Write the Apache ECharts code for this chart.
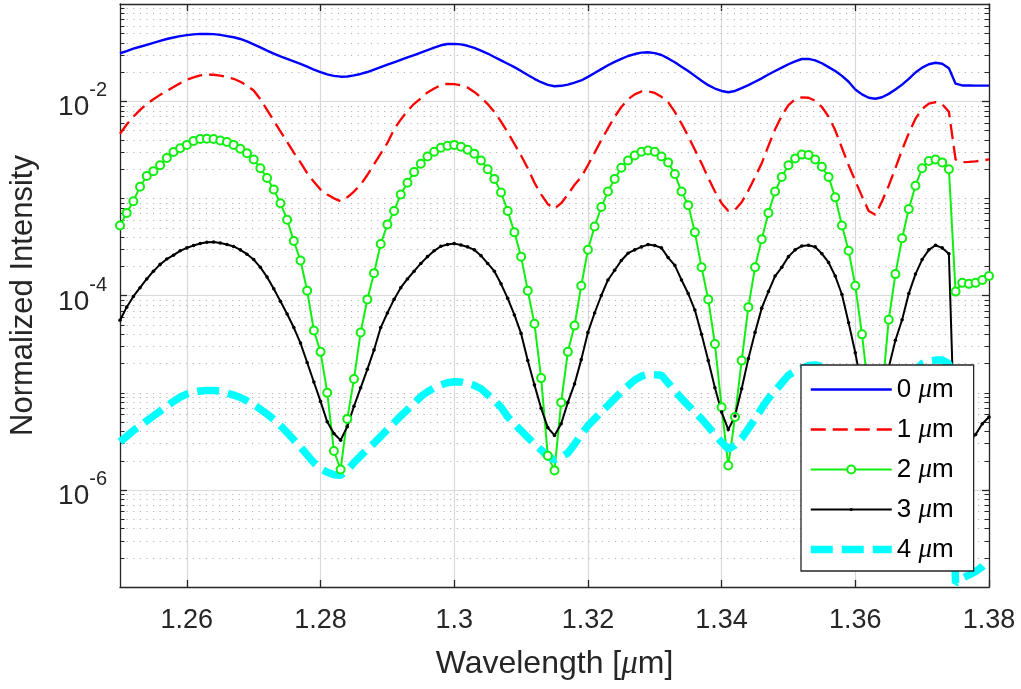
<!DOCTYPE html>
<html>
<head>
<meta charset="utf-8">
<title>Normalized Intensity vs Wavelength</title>
<script src="https://cdn.jsdelivr.net/npm/echarts@6/dist/echarts.min.js"></script>
<style>
  html, body { margin: 0; padding: 0; background: #ffffff; }
  #chart { width: 1021px; height: 689px; }
</style>
</head>
<body>
<div id="chart"></div>
<script>
// Spectra sampled every 1 nm from 1.250 to 1.380 µm.
// Intensities are stored as log10 of the normalized intensity.
const wavelengthStart = 1.25;
const wavelengthStep = 0.001;

const log10Intensity0um = [
  -1.507, -1.485, -1.46, -1.44, -1.42, -1.40, -1.38, -1.36, -1.345, -1.33,
  -1.32, -1.313, -1.308, -1.307, -1.31, -1.318, -1.33, -1.342, -1.36, -1.385,
  -1.415, -1.447, -1.479, -1.51, -1.54, -1.565, -1.59, -1.616, -1.645, -1.675,
  -1.70, -1.725, -1.74, -1.748, -1.746, -1.735, -1.72, -1.70, -1.675, -1.65,
  -1.625, -1.60, -1.575, -1.55, -1.525, -1.50, -1.475, -1.45, -1.425, -1.412,
  -1.41, -1.415, -1.43, -1.452, -1.479, -1.51, -1.545, -1.58, -1.615, -1.65,
  -1.69, -1.73, -1.77, -1.805, -1.832, -1.846, -1.842, -1.83, -1.81, -1.787,
  -1.75, -1.71, -1.67, -1.63, -1.595, -1.565, -1.535, -1.515, -1.50, -1.497,
  -1.505, -1.525, -1.56, -1.60, -1.645, -1.69, -1.74, -1.79, -1.835, -1.87,
  -1.895, -1.908, -1.895, -1.865, -1.835, -1.80, -1.765, -1.725, -1.69, -1.655,
  -1.62, -1.59, -1.566, -1.565, -1.58, -1.61, -1.65, -1.69, -1.74, -1.80,
  -1.88, -1.93, -1.965, -1.975, -1.96, -1.925, -1.88, -1.83, -1.77, -1.705,
  -1.655, -1.62, -1.605, -1.615, -1.66, -1.82, -1.838, -1.838, -1.84, -1.84, -1.84
];

const log10Intensity1um = [
  -2.335, -2.24, -2.16, -2.09, -2.03, -1.98, -1.935, -1.895, -1.855, -1.815,
  -1.78, -1.755, -1.735, -1.726, -1.728, -1.738, -1.752, -1.77, -1.80, -1.84,
  -1.89, -1.98, -2.09, -2.20, -2.31, -2.42, -2.53, -2.63, -2.74, -2.83,
  -2.91, -2.96, -3.0, -3.03, -2.99, -2.93, -2.86, -2.76, -2.65, -2.54,
  -2.43, -2.29, -2.19, -2.10, -2.027, -1.97, -1.91, -1.87, -1.835, -1.821,
  -1.825, -1.837, -1.86, -1.905, -1.96, -2.03, -2.11, -2.21, -2.32, -2.44,
  -2.56, -2.69, -2.84, -2.96, -3.06, -3.105, -3.05, -2.96, -2.86, -2.78,
  -2.66, -2.53, -2.40, -2.28, -2.16, -2.06, -1.98, -1.93, -1.90, -1.898,
  -1.915, -1.955, -2.01, -2.11, -2.23, -2.36, -2.50, -2.64, -2.79, -2.93,
  -3.05, -3.13, -3.12, -3.04, -2.92, -2.78, -2.64, -2.46, -2.29, -2.15,
  -2.04, -1.98, -1.96, -1.965, -1.995, -2.06, -2.16, -2.30, -2.48, -2.66,
  -2.82, -2.98, -3.13, -3.17, -3.03, -2.87, -2.69, -2.50, -2.33, -2.18,
  -2.08, -2.025, -2.01, -2.03, -2.11, -2.60, -2.627, -2.625, -2.62, -2.61, -2.60
];

const log10Intensity2um = [
  -3.28, -3.15, -3.03, -2.88, -2.77, -2.72, -2.66, -2.585, -2.524, -2.485,
  -2.45, -2.41, -2.39, -2.386, -2.39, -2.405, -2.42, -2.45, -2.49, -2.535,
  -2.60, -2.69, -2.79, -2.91, -3.05, -3.22, -3.44, -3.64, -3.95, -4.36,
  -4.58, -5.0, -5.6, -5.79, -5.27, -4.86, -4.38, -4.04, -3.77, -3.47,
  -3.27, -3.13, -2.96, -2.84, -2.73, -2.645, -2.57, -2.52, -2.48, -2.458,
  -2.45, -2.468, -2.50, -2.54, -2.61, -2.70, -2.80, -2.94, -3.13, -3.35,
  -3.60, -3.95, -4.29, -4.85, -5.65, -5.80, -5.10, -4.58, -4.31, -3.90,
  -3.53, -3.29, -3.09, -2.93, -2.80, -2.685, -2.61, -2.558, -2.52, -2.508,
  -2.52, -2.57, -2.63, -2.75, -2.93, -3.07, -3.35, -3.71, -4.04, -4.50,
  -5.15, -5.75, -5.25, -4.67, -4.12, -3.71, -3.42, -3.15, -2.93, -2.78,
  -2.66, -2.59, -2.55, -2.553, -2.60, -2.675, -2.78, -2.99, -3.28, -3.54,
  -3.90, -4.40, -5.0, -5.8, -5.0, -4.25, -3.78, -3.41, -3.11, -2.87,
  -2.69, -2.615, -2.60, -2.63, -2.70, -3.96, -3.87, -3.88, -3.87, -3.84, -3.80
];

const log10Intensity3um = [
  -4.254, -4.12, -4.01, -3.92, -3.83, -3.75, -3.68, -3.625, -3.585, -3.54,
  -3.51, -3.485, -3.465, -3.452, -3.449, -3.46, -3.475, -3.495, -3.53, -3.575,
  -3.63, -3.71, -3.81, -3.93, -4.06, -4.19, -4.33, -4.49, -4.69, -4.89,
  -5.09, -5.30, -5.42, -5.49, -5.35, -5.14, -4.95, -4.76, -4.56, -4.33,
  -4.18, -4.04, -3.92, -3.83, -3.75, -3.67, -3.60, -3.54, -3.493, -3.475,
  -3.466, -3.48, -3.50, -3.53, -3.59, -3.67, -3.75, -3.88, -4.03, -4.20,
  -4.39, -4.67, -4.92, -5.16, -5.36, -5.44, -5.32, -5.10, -4.91, -4.66,
  -4.38, -4.18, -4.00, -3.84, -3.74, -3.64, -3.565, -3.53, -3.50, -3.476,
  -3.485, -3.51, -3.61, -3.69, -3.84, -3.98, -4.15, -4.40, -4.67, -4.95,
  -5.20, -5.38, -5.24, -4.96, -4.65, -4.38, -4.13, -3.96, -3.80, -3.71,
  -3.60, -3.53, -3.49, -3.483, -3.50, -3.57, -3.66, -3.80, -3.99, -4.28,
  -4.59, -4.95, -5.30, -5.45, -5.20, -4.74, -4.46, -4.25, -3.98, -3.78,
  -3.63, -3.53, -3.483, -3.51, -3.57, -5.80, -5.65, -5.50, -5.43, -5.32, -5.25
];

const log10Intensity4um = [
  -5.505, -5.45, -5.39, -5.34, -5.29, -5.24, -5.19, -5.14, -5.09, -5.045,
  -5.015, -4.995, -4.983, -4.978, -4.978, -4.985, -5.005, -5.025, -5.05, -5.085,
  -5.125, -5.17, -5.22, -5.275, -5.34, -5.41, -5.485, -5.56, -5.64, -5.72,
  -5.78, -5.82, -5.845, -5.85, -5.80, -5.72, -5.65, -5.585, -5.52, -5.45,
  -5.38, -5.31, -5.24, -5.175, -5.11, -5.04, -4.99, -4.95, -4.92, -4.898,
  -4.888, -4.89, -4.905, -4.925, -4.96, -5.02, -5.08, -5.15, -5.25, -5.32,
  -5.39, -5.46, -5.53, -5.59, -5.66, -5.69, -5.66, -5.62, -5.53, -5.43,
  -5.34, -5.27, -5.20, -5.13, -5.06, -4.99, -4.93, -4.87, -4.83, -4.81,
  -4.815, -4.82, -4.90, -4.98, -5.06, -5.13, -5.20, -5.27, -5.35, -5.43,
  -5.51, -5.58, -5.54, -5.47, -5.37, -5.27, -5.16, -5.06, -4.98, -4.90,
  -4.82, -4.78, -4.75, -4.72, -4.715, -4.73, -4.78, -4.86, -4.96, -5.07,
  -5.20, -5.33, -5.44, -5.50, -5.44, -5.30, -5.15, -5.00, -4.87, -4.77,
  -4.70, -4.675, -4.665, -4.665, -4.70, -6.96, -6.91, -6.875, -6.84, -6.79, -6.72
];

const seriesNames = ['0 μm', '1 μm', '2 μm', '3 μm', '4 μm'];
const xTickValues = [1.26, 1.28, 1.30, 1.32, 1.34, 1.36, 1.38];
const yTickValues = [1e-6, 1e-4, 1e-2];
const xMin = 1.25, xMax = 1.38;
const yMin = 1e-7, yMax = 1e-1;

const wavelengths = log10Intensity0um.map((_, i) => +(wavelengthStart + i * wavelengthStep).toFixed(3));
function toPoints(logs) {
  return logs.map((e, i) => [wavelengths[i], Math.pow(10, e)]);
}

// Minor log grid: 2..9 x 10^k plus the odd decades between labelled ticks.
const minorGridValues = [];
for (let e = -7; e <= -2; e++) {
  for (let m = 1; m <= 9; m++) {
    if (m === 1 && (e === -7 || e % 2 === 0)) continue;
    minorGridValues.push([xMin, m * Math.pow(10, e)]);
  }
}

const FONT = "'Liberation Sans', Arial, Helvetica, sans-serif";
const SERIF = "'Liberation Serif', 'DejaVu Serif', serif";
const AXIS_COLOR = '#262626';

// Small filled dot centred in a 10x10 box, so the marker renders at ~40% of symbolSize.
const smallDot = 'path://M0,0M10,10M3,5A2,2,0,1,0,7,5A2,2,0,1,0,3,5Z';

const chart = echarts.init(document.getElementById('chart'), null, { renderer: 'canvas' });

const axisLine = { show: true, onZero: false, lineStyle: { color: AXIS_COLOR, width: 1.3 } };

chart.setOption({
  animation: false,
  backgroundColor: '#ffffff',
  textStyle: { fontFamily: FONT },
  grid: { left: 120, top: 4, width: 869, height: 583, outerBoundsMode: 'none', containLabel: false },
  xAxis: [
    {
      type: 'value', min: xMin, max: xMax, position: 'bottom',
      axisLine: axisLine,
      axisTick: { show: true, inside: true, length: 7, customValues: xTickValues, lineStyle: { color: AXIS_COLOR, width: 1.3 } },
      axisLabel: { customValues: xTickValues, margin: 20, fontSize: 27, color: AXIS_COLOR, fontFamily: FONT },
      splitLine: { show: true, lineStyle: { color: '#d9d9d9', width: 1.2 } },
      name: 'Wavelength [{mu|μ}m]',
      nameLocation: 'middle', nameGap: 61, nameMoveOverlap: false,
      nameTextStyle: {
        fontSize: 32, color: AXIS_COLOR, fontFamily: FONT,
        rich: { mu: { fontSize: 33, fontStyle: 'italic', fontFamily: SERIF, color: AXIS_COLOR } }
      }
    },
    {
      type: 'value', min: xMin, max: xMax, position: 'top',
      axisLine: axisLine,
      axisTick: { show: true, inside: true, length: 7, customValues: xTickValues, lineStyle: { color: AXIS_COLOR, width: 1.3 } },
      axisLabel: { show: false },
      splitLine: { show: false }
    }
  ],
  yAxis: [
    {
      type: 'log', logBase: 10, min: yMin, max: yMax, position: 'left',
      axisLine: axisLine,
      axisTick: { show: true, inside: true, length: 7, customValues: yTickValues, lineStyle: { color: AXIS_COLOR, width: 1.3 } },
      axisLabel: {
        customValues: yTickValues, margin: 13, color: AXIS_COLOR, fontFamily: FONT,
        formatter: function (v) {
          const e = Math.round(Math.log10(v));
          return '{b|10}{s|' + e + '}{h|\u200b}';
        },
        rich: {
          b: { fontSize: 28, lineHeight: 28, verticalAlign: 'bottom', color: AXIS_COLOR, fontFamily: FONT },
          s: { fontSize: 20, lineHeight: 37, verticalAlign: 'top', color: AXIS_COLOR, fontFamily: FONT },
          h: { fontSize: 1, lineHeight: 41, verticalAlign: 'middle' }
        }
      },
      splitLine: { show: true, lineStyle: { color: '#d9d9d9', width: 1.2 } },
      minorTick: { show: false },
      name: 'Normalized Intensity',
      nameLocation: 'middle', nameGap: 81, nameMoveOverlap: false,
      nameTextStyle: { fontSize: 31, color: AXIS_COLOR, fontFamily: FONT }
    },
    {
      type: 'log', logBase: 10, min: yMin, max: yMax, position: 'right',
      axisLine: axisLine,
      axisTick: { show: true, inside: true, length: 7, customValues: yTickValues, lineStyle: { color: AXIS_COLOR, width: 1.3 } },
      axisLabel: { show: false },
      splitLine: { show: false }
    }
  ],
  legend: {
    orient: 'vertical', left: 801, top: 365,
    padding: [11, 20, 8, 6], itemGap: 13, itemWidth: 81, itemHeight: 10,
    backgroundColor: '#ffffff', borderColor: AXIS_COLOR, borderWidth: 1.3, borderRadius: 0,
    selectedMode: false,
    textStyle: {
      fontSize: 26, lineHeight: 24, color: '#000000', fontFamily: FONT,
      rich: { mu: { fontSize: 27, lineHeight: 24, fontStyle: 'italic', fontFamily: SERIF, color: '#000000' } }
    },
    formatter: function (name) { return name.replace('μ', '{mu|μ}'); },
    data: [
      { name: seriesNames[0], itemStyle: { opacity: 0 }, lineStyle: { width: 2.4 } },
      { name: seriesNames[1], itemStyle: { opacity: 0 }, lineStyle: { width: 2.3 } },
      { name: seriesNames[2], lineStyle: { width: 2 } },
      { name: seriesNames[3], lineStyle: { width: 2 } },
      { name: seriesNames[4], itemStyle: { opacity: 0 }, lineStyle: { width: 7.5 } }
    ]
  },
  series: [
    {
      // dotted minor grid lines with minor ticks on both y axes
      name: 'minor-grid',
      type: 'custom',
      silent: true,
      z: 1,
      clip: false,
      encode: { x: 0, y: 1 },
      data: minorGridValues,
      renderItem: function (params, api) {
        const cs = params.coordSys;
        const y = Math.round(api.coord([api.value(0), api.value(1)])[1]) + 0.5;
        return {
          type: 'group',
          children: [
            { type: 'line', shape: { x1: cs.x, y1: y, x2: cs.x + cs.width, y2: y },
              style: { stroke: '#b4b4b4', lineWidth: 1, lineDash: [1.2, 5.4] } },
            { type: 'line', shape: { x1: cs.x, y1: y, x2: cs.x + 4.5, y2: y },
              style: { stroke: AXIS_COLOR, lineWidth: 1 } },
            { type: 'line', shape: { x1: cs.x + cs.width - 4.5, y1: y, x2: cs.x + cs.width, y2: y },
              style: { stroke: AXIS_COLOR, lineWidth: 1 } }
          ]
        };
      }
    },
    {
      name: seriesNames[0], type: 'line', data: toPoints(log10Intensity0um),
      symbol: 'none', z: 2,
      lineStyle: { color: '#0000ff', width: 2.4 },
      itemStyle: { color: '#0000ff' },
      emphasis: { disabled: true }
    },
    {
      name: seriesNames[1], type: 'line', data: toPoints(log10Intensity1um),
      symbol: 'none', z: 2,
      lineStyle: { color: '#ff0000', width: 2.3, type: [15, 7], cap: 'butt' },
      itemStyle: { color: '#ff0000' },
      emphasis: { disabled: true }
    },
    {
      name: seriesNames[2], type: 'line', data: toPoints(log10Intensity2um),
      symbol: 'emptyCircle', symbolSize: 8, showSymbol: true, z: 2,
      lineStyle: { color: '#11ee11', width: 2 },
      itemStyle: { color: '#11ee11', borderColor: '#11ee11', borderWidth: 1.5 },
      emphasis: { disabled: true }
    },
    {
      name: seriesNames[3], type: 'line', data: toPoints(log10Intensity3um),
      symbol: smallDot, symbolSize: 9, showSymbol: true, z: 2,
      lineStyle: { color: '#000000', width: 2 },
      itemStyle: { color: '#000000' },
      emphasis: { disabled: true }
    },
    {
      name: seriesNames[4], type: 'line', data: toPoints(log10Intensity4um),
      symbol: 'none', z: 2,
      lineStyle: { color: '#00ffff', width: 7.5, type: [22, 9], cap: 'butt' },
      itemStyle: { color: '#00ffff' },
      emphasis: { disabled: true }
    }
  ]
});
</script>
</body>
</html>
